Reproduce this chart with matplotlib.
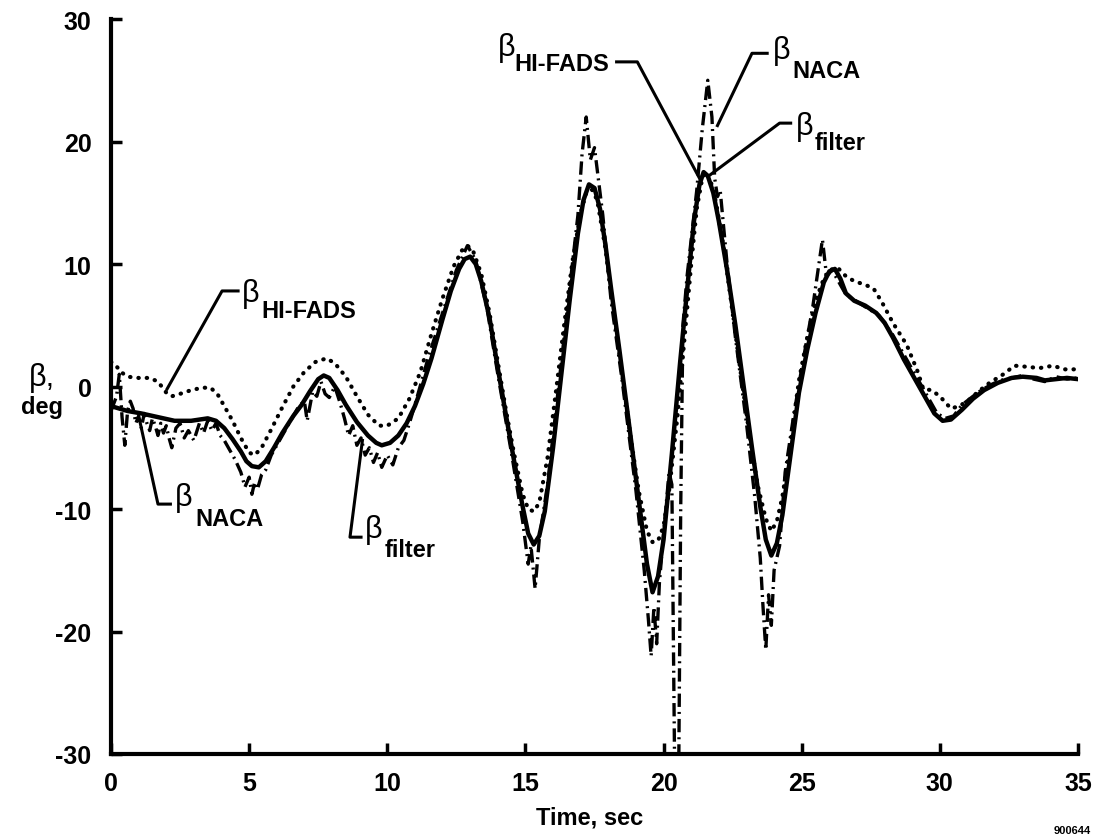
import matplotlib
matplotlib.use("Agg")
import matplotlib.pyplot as plt

# sideslip time histories, deg
t_filter = [0.0, 0.3, 0.6, 1.1, 1.7, 2.3, 2.9, 3.5, 3.8, 4.1, 4.4, 4.7, 4.9, 5.1, 5.35, 5.6, 5.9, 6.2,
            6.6, 6.9, 7.2, 7.5, 7.7, 7.9, 8.2, 8.5, 8.9, 9.3, 9.6, 9.8, 10.1, 10.4, 10.7, 11.0, 11.3,
            11.6, 12.0, 12.3, 12.6, 12.8, 13.0, 13.2, 13.4, 13.7, 14.0, 14.3, 14.6, 14.9, 15.1, 15.3,
            15.5, 15.7, 16.0, 16.3, 16.6, 16.9, 17.1, 17.3, 17.5, 17.7, 17.9, 18.1, 18.4, 18.7, 19.0,
            19.2, 19.4, 19.6, 19.8, 20.0, 20.3, 20.6, 20.9, 21.1, 21.3, 21.45, 21.6, 21.8, 22.0, 22.3,
            22.6, 22.9, 23.2, 23.5, 23.7, 23.9, 24.1, 24.3, 24.6, 24.9, 25.2, 25.5, 25.8, 26.0, 26.2,
            26.4, 26.6, 26.9, 27.3, 27.7, 28.0, 28.3, 28.7, 29.1, 29.5, 29.8, 30.1, 30.4, 30.8, 31.2,
            31.6, 32.1, 32.6, 33.0, 33.5, 33.8, 34.2, 34.6, 35.0]
beta_filter = [-1.6, -1.8, -2.0, -2.2, -2.5, -2.8, -2.8, -2.6, -2.8, -3.4, -4.3, -5.3, -6.1, -6.5, -6.6, -6.1, -5.0, -3.8,
               -2.4, -1.5, -0.4, 0.6, 0.9, 0.7, -0.3, -1.5, -2.9, -4.0, -4.6, -4.8, -4.6, -4.0, -3.0, -1.6, 0.2,
               2.3, 5.5, 7.8, 9.6, 10.4, 10.6, 10.0, 8.6, 5.6, 1.5, -2.4, -6.2, -9.8, -12.0, -12.9,
               -12.2, -10.2, -5.0, 1.0, 7.0, 12.5, 15.2, 16.5, 16.2, 14.5, 11.5, 8.0, 3.0, -2.2, -7.5,
               -11.0, -14.5, -16.8, -15.5, -12.5, -5.5, 2.0, 9.0, 13.5, 16.5, 17.5, 17.2, 15.8, 13.5, 9.5,
               5.0, 0.0, -5.0, -9.8, -12.5, -13.8, -12.8, -10.5, -5.5, -0.5, 3.0, 6.0, 8.5, 9.4, 9.6,
               8.8, 7.6, 7.0, 6.6, 6.0, 5.2, 4.0, 2.2, 0.6, -1.0, -2.2, -2.8, -2.7, -1.9, -1.0,
               -0.3, 0.3, 0.7, 0.8, 0.7, 0.5, 0.6, 0.7, 0.6]

t_hifads = [0.0, 0.15, 0.35, 0.6, 1.0, 1.4, 1.7, 2.0, 2.2, 2.5, 2.9, 3.3, 3.6, 3.85, 4.1, 4.4, 4.7, 5.0,
            5.2, 5.45, 5.8, 6.2, 6.6, 7.0, 7.4, 7.8, 8.1, 8.5, 8.9, 9.3, 9.7, 10.0, 10.4, 10.8, 11.2,
            11.6, 12.0, 12.4, 12.7, 12.9, 13.1, 13.4, 13.7, 14.0, 14.3, 14.6, 14.9, 15.1, 15.3, 15.5,
            15.8, 16.1, 16.4, 16.7, 17.0, 17.2, 17.4, 17.6, 17.9, 18.2, 18.5, 18.8, 19.1, 19.4, 19.6,
            19.8, 20.0, 20.2, 20.5, 20.8, 21.0, 21.2, 21.4, 21.5, 21.7, 21.9, 22.2, 22.5, 22.8, 23.1,
            23.4, 23.7, 23.9, 24.1, 24.3, 24.6, 24.9, 25.2, 25.5, 25.8, 26.0, 26.3, 26.6, 26.9, 27.3,
            27.6, 27.9, 28.3, 28.8, 29.2, 29.4, 29.7, 30.0, 30.4, 30.7, 31.0, 31.4, 31.8, 32.3, 32.7,
            33.2, 33.6, 34.1, 34.5, 35.0]
beta_hifads = [2.0, 1.8, 1.2, 0.8, 0.7, 0.7, 0.4, -0.5, -0.8, -0.6, -0.3, -0.1, -0.1, -0.6, -1.6, -2.8, -4.2, -5.4,
               -5.6, -5.0, -3.5, -1.7, 0.0, 1.2, 2.0, 2.3, 1.9, 0.8, -0.8, -2.3, -3.2, -3.2, -2.6, -1.0, 1.2,
               4.3, 7.2, 9.8, 11.1, 11.5, 11.1, 9.2, 6.0, 2.0, -2.0, -5.6, -8.8, -10.0, -10.2, -9.5,
               -5.8, -0.5, 5.0, 10.2, 14.2, 15.8, 16.1, 15.2, 11.2, 6.0, 1.0, -4.0, -8.5, -11.8, -12.7,
               -12.6, -11.4, -8.5, -2.5, 5.0, 10.0, 14.5, 17.0, 17.5, 16.8, 15.0, 11.0, 6.0, 1.0, -3.8,
               -8.0, -10.8, -11.8, -11.0, -9.0, -4.5, 0.5, 4.0, 7.0, 8.8, 9.5, 9.7, 9.0, 8.6, 8.3,
               8.0, 6.9, 5.2, 3.4, 1.2, -0.2, -0.3, -0.8, -1.8, -1.6, -1.2, -0.4, 0.3, 1.0, 1.7,
               1.6, 1.5, 1.7, 1.4, 1.4]

t_naca = [0.0, 0.1, 0.2, 0.3, 0.4, 0.5, 0.6, 0.7, 0.8, 0.9, 1.0, 1.1, 1.2, 1.3, 1.4, 1.5, 1.6, 1.7, 1.8,
          1.9, 2.0, 2.1, 2.2, 2.35, 2.5, 2.65, 2.8, 3.0, 3.2, 3.35, 3.5, 3.65, 3.8, 3.95, 4.1, 4.3, 4.5,
          4.7, 4.85, 5.0, 5.1, 5.2, 5.3, 5.45, 5.6, 5.8, 6.0, 6.2, 6.4, 6.6, 6.8, 7.0, 7.1, 7.3, 7.45,
          7.6, 7.75, 7.9, 8.1, 8.3, 8.45, 8.6, 8.75, 8.9, 9.05, 9.2, 9.35, 9.5, 9.65, 9.8, 10.0, 10.2,
          10.4, 10.6, 10.8, 11.0, 11.5, 12.0, 12.5, 12.9, 13.2, 13.6, 14.0, 14.5, 14.9, 15.1, 15.2,
          15.35, 15.5, 15.8, 16.1, 16.5, 16.9, 17.05, 17.2, 17.35, 17.5, 17.8, 18.1, 18.5, 19.0, 19.3,
          19.45, 19.55, 19.65, 19.75, 19.85, 20.0, 20.2, 20.3, 20.4, 20.55, 20.62, 20.7, 20.85, 21.0,
          21.2, 21.4, 21.6, 21.75, 21.85, 21.95, 22.05, 22.3, 22.6, 23.0, 23.3, 23.5, 23.6, 23.7, 23.8,
          23.9, 24.0, 24.2, 24.4, 24.7, 25.0, 25.4, 25.75, 25.9, 26.1, 26.6, 27.3, 27.8, 28.3, 28.8,
          29.2, 29.6, 29.9, 30.2, 30.5, 30.8, 31.2, 31.5, 31.9, 32.2, 32.6, 33.0, 33.4, 33.8, 34.2,
          34.6, 35.0]
beta_naca = [-2.0, -1.4, -0.8, 1.0, -2.5, -4.8, -2.0, -1.2, -1.8, -3.0, -2.4, -3.4, -2.2, -3.0, -3.6, -2.6, -3.2, -4.0, -3.0,
             -3.8, -3.2, -4.2, -5.0, -3.4, -3.0, -4.2, -3.6, -4.4, -3.0, -3.8, -2.8, -3.6, -3.0, -4.0, -4.4, -5.2, -6.0,
             -7.0, -8.2, -7.4, -8.8, -7.8, -8.4, -7.2, -6.8, -5.6, -4.8, -4.0, -3.2, -2.4, -1.6, -1.2, -2.8, -0.4, -0.8,
             0.4, -0.6, -0.9, 0.0, -1.4, -2.6, -4.0, -3.2, -4.8, -4.2, -5.6, -5.0, -6.2, -5.4, -6.6, -5.6, -6.4,
             -5.0, -4.4, -3.0, -1.5, 2.5, 6.0, 9.5, 11.5, 10.3, 6.5, 1.0, -5.5, -11.0, -14.5, -13.0,
             -16.5, -12.5, -8.0, -2.0, 6.0, 14.0, 19.0, 22.0, 18.5, 19.5, 14.0, 7.0, 0.5, -8.5, -15.0,
             -19.0, -22.0, -18.0, -21.0, -16.0, -12.0, -7.0, -8.0, -31.0, -31.0, -10.0, 5.0, 9.0, 12.0,
             16.0, 21.0, 25.0, 22.0, 17.0, 15.5, 16.0, 10.0, 4.0, -3.0, -9.0, -14.0, -18.0, -21.5, -17.0,
             -19.5, -15.0, -13.0, -7.0, -2.5, 1.5, 6.5, 12.0, 9.0, 9.5, 7.5, 6.5, 5.8, 4.2, 2.2,
             0.6, -1.0, -2.2, -2.6, -2.4, -1.5, -0.8, -0.3, 0.2, 0.5, 0.7, 0.9, 0.6, 0.4, 0.8,
             0.6, 0.7]

x_ticks = [0, 5, 10, 15, 20, 25, 30, 35]
y_ticks = [-30, -20, -10, 0, 10, 20, 30]

plt.rcParams['font.family'] = ['Liberation Sans', 'DejaVu Sans']
plt.rcParams['axes.unicode_minus'] = False

W, H = 1098, 837
fig = plt.figure(figsize=(W / 100, H / 100), dpi=100)
ax = fig.add_axes([111 / W, 1 - 755 / H, 967 / W, 735 / H])

ax.plot(t_hifads, beta_hifads, color='black', lw=3.0, linestyle=(0, (0.1, 1.9)),
        dash_capstyle='round')
ax.plot(t_naca, beta_naca, color='black', lw=2.4, linestyle=(0, (4, 1.5, 0.6, 1.5)))
ax.plot(t_filter, beta_filter, color='black', lw=3.2, solid_joinstyle='round')

ax.set_xlim(0, 35)
ax.set_ylim(-30, 30)
ax.set_xticks(x_ticks)
ax.set_yticks(y_ticks)
ax.set_xticklabels([str(v) for v in x_ticks], fontweight='bold')
ax.set_yticklabels([str(v) for v in y_ticks], fontweight='bold')
ax.tick_params(direction='in', length=8, width=2.5, labelsize=18)
ax.tick_params(axis='y', pad=14)
ax.tick_params(axis='x', pad=12)
for side in ['top', 'right']:
    ax.spines[side].set_visible(False)
for side in ['left', 'bottom']:
    ax.spines[side].set_linewidth(3)

# curve labels: (leader path, beta position, subscript position, subscript)
labels = [
    ([(4.6, 7.8), (4.02, 7.8), (2.03, -0.2)], (4.75, 7.6), (5.45, 5.7), 'HI-FADS'),
    ([(1.05, -2.9), (1.7, -9.6), (2.15, -9.6)], (2.3, -9.0), (3.05, -11.3), 'NACA'),
    ([(9.1, -4.4), (8.65, -12.3), (9.05, -12.3)], (9.2, -11.6), (9.9, -13.8), 'filter'),
    ([(18.3, 26.5), (19.05, 26.5), (21.3, 17.0)], (14.0, 27.7), (14.6, 25.8), 'HI-FADS'),
    ([(21.95, 21.3), (23.2, 27.2), (23.75, 27.2)], (23.95, 27.5), (24.65, 25.3), 'NACA'),
    ([(21.7, 17.3), (24.2, 21.5), (24.6, 21.5)], (24.8, 21.3), (25.45, 19.4), 'filter'),
]
for path, bpos, spos, sub in labels:
    xs, ys = zip(*path)
    ax.plot(xs, ys, color='black', lw=2.2, clip_on=False)
    ax.text(bpos[0], bpos[1], '\u03b2', fontsize=22, va='center', ha='left')
    ax.text(spos[0], spos[1], sub, fontsize=17, fontweight='bold', va='baseline', ha='left')

fig.text(42 / W, 1 - 378 / H, '\u03b2,', fontsize=22, ha='center', va='center')
fig.text(42 / W, 1 - 408 / H, 'deg', fontsize=17, fontweight='bold', ha='center', va='center')
fig.text(590 / W, 1 - 818 / H, 'Time, sec', fontsize=17, fontweight='bold', ha='center', va='center')
fig.text(1072 / W, 1 - 831 / H, '900644', fontsize=8, fontweight='bold', ha='center', va='center')

fig.savefig('out.png', dpi=100)
